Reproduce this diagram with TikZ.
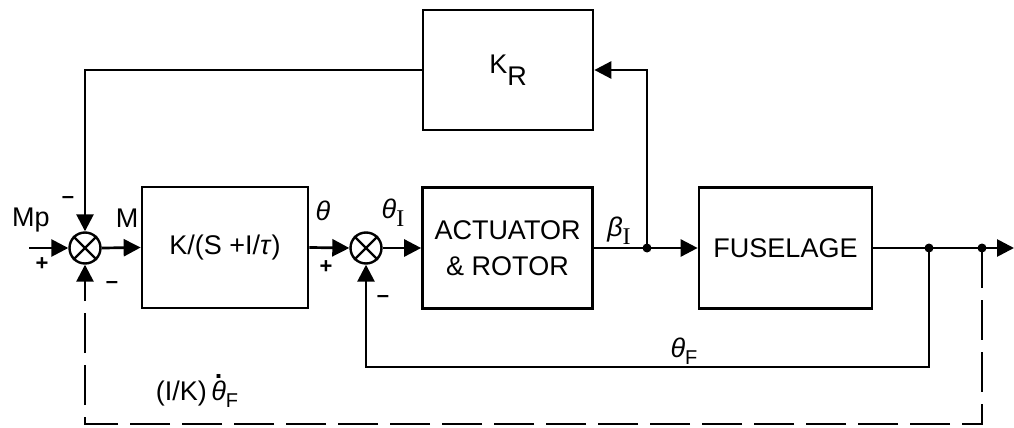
\documentclass[tikz,border=0pt]{standalone}
\usepackage{fontspec}
\setmainfont{Liberation Sans}
\newfontfamily\serifI{Liberation Serif}
\usetikzlibrary{arrows.meta,calc}
\newcommand\thetadot{\ooalign{\textit{θ}\cr\hidewidth\raisebox{0.82em}{\textbf{.}}\hidewidth\cr}}
\begin{document}
\begin{tikzpicture}[x=1pt,y=-1pt,line width=2.7pt,
  blk/.style={draw,rectangle,inner sep=0pt,font=\fontsize{27}{36}\selectfont,align=center},
  sumj/.style={draw,circle,minimum size=31pt,inner sep=0pt,line width=2.4pt},
  arr/.style={-{Triangle[length=17pt,width=17pt]}},
  lbl/.style={inner sep=0pt,font=\fontsize{27}{30}\selectfont},
  sgn/.style={inner sep=0pt,font=\fontsize{22}{24}\selectfont\bfseries},
  jdot/.style={circle,fill,minimum size=9pt,inner sep=0pt}]
\useasboundingbox (0,0) rectangle (1014,428);

% blocks
\node[blk,minimum width=166pt,minimum height=121pt] (b1) at (225,247.5) {K/(S +I/\textit{τ})};
\node[blk,minimum width=170pt,minimum height=121pt] (b2) at (507.5,248) {ACTUATOR\\\& ROTOR};
\node[blk,minimum width=173pt,minimum height=121pt] (fus) at (785.5,248) {FUSELAGE};
\node[blk,minimum width=170pt,minimum height=120pt] (kr) at (508,70) {K\raisebox{-0.45em}{R}};

% summing junctions
\node[sumj] (s1) at (85,248) {};
\node[sumj] (s2) at (366,248) {};
\draw[line width=2.2pt] (s1.north east) -- (s1.south west) (s1.north west) -- (s1.south east);
\draw[line width=2.2pt] (s2.north east) -- (s2.south west) (s2.north west) -- (s2.south east);

% junction dots and free ends
\node[jdot] (br1) at (647,248) {};
\node[jdot] (br2) at (929,248) {};
\node[jdot] (br3) at (982,248) {};
\coordinate (in) at (29,248);
\coordinate (out) at (1014,248);
\coordinate (c1) at (929,367);
\coordinate (c2) at (982,424);

% forward path
\draw[arr] (in) -- (s1.west);
\draw[arr] (s1.east) -- (b1.west);
\draw[arr] (b1.east) -- (s2.west);
\draw[arr] (s2.east) -- (b2.west);
\draw (b2.east) -- (br1.center);
\draw[arr] (br1.center) -- (fus.west);
\draw (fus.east) -- (br2.center) -- (br3.center);
\draw[arr] (br3.center) -- (out);

% K_R loop
\draw[arr] (br1.center) |- (kr.east);
\draw[arr] (kr.west) -| (s1.north);

% theta_F feedback
\draw[arr] (br2.center) -- (c1) -| (s2.south);

% dashed rate feedback
\draw[arr,dash pattern=on 40pt off 12pt] (br3.center) -- (c2) -| (s1.south);

% labels
\node[lbl] (lMp) at (31,220) {Mp};
\node[sgn] (lp1) at (42,264) {+};
\node[sgn] (lm1) at (68,200) {–};
\node[sgn] (lm2) at (112,285) {–};
\node[lbl] (lM) at (127,218) {M};
\node[lbl] (lth) at (323,211) {\textit{θ}};
\node[lbl] (lthI) at (393,213) {\textit{θ}\raisebox{-0.3em}{\serifI\fontsize{24}{26}\selectfont I}};
\node[sgn] (lp2) at (326,267) {+};
\node[sgn] (lm3) at (383,299) {–};
\node[lbl] (lbI) at (619,231) {\textit{β}\raisebox{-0.3em}{\serifI\fontsize{24}{26}\selectfont I}};
\node[lbl] (lthF) at (684,351) {\textit{θ}\raisebox{-0.25em}{\fontsize{20}{22}\selectfont F}};
\node[lbl] (lrate) at (197,394) {(I/K)\,\thetadot\raisebox{-0.25em}{\fontsize{20}{22}\selectfont F}};
\end{tikzpicture}
\end{document}
